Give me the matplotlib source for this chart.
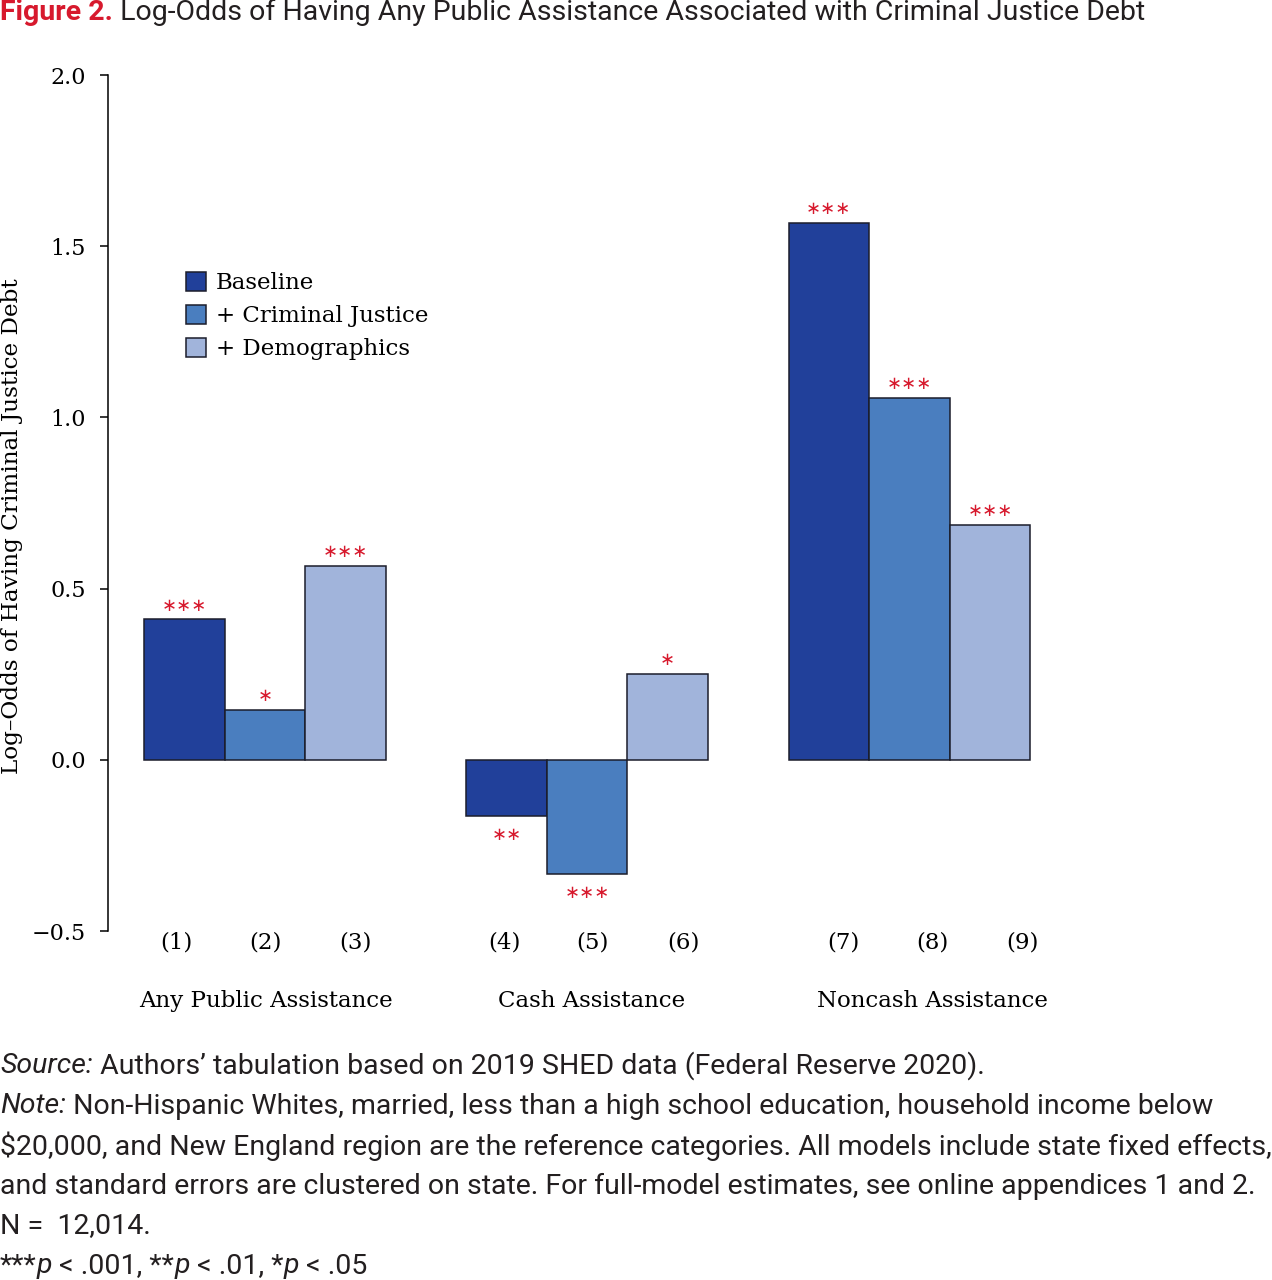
import matplotlib
matplotlib.use('Agg')
import matplotlib.pyplot as plt
import matplotlib.transforms as mtransforms
import numpy as np

plt.rcParams['font.family'] = ['DejaVu Serif']

# data
series = ['Baseline', '+ Criminal Justice', '+ Demographics']
groups = ['Any Public Assistance', 'Cash Assistance', 'Noncash Assistance']
model_labels = ['(1)', '(2)', '(3)', '(4)', '(5)', '(6)', '(7)', '(8)', '(9)']
values = [0.41, 0.146, 0.566,
          -0.163, -0.333, 0.251,
          1.567, 1.057, 0.686]
stars = ['***', '*', '***',
         '**', '***', '*',
         '***', '***', '***']
yticks = [-0.5, 0.0, 0.5, 1.0, 1.5, 2.0]

colors = ['#21409a', '#4a7ebf', '#a1b4db']
red = '#d7192d'
dark = '#231f20'
W, H = 1272, 1280

fig = plt.figure(figsize=(W / 100, H / 100), dpi=100)
ax = fig.add_axes([108 / W, 1 - 931 / H, (W - 108) / W, (931 - 75) / H])

# bar positions: three per group, one empty slot between groups
pos = np.array([g * 4 + i for g in range(3) for i in range(3)], dtype=float)
col = [colors[i % 3] for i in range(9)]
bars = ax.bar(pos, values, width=1.0, color=col, edgecolor='#1b1d2b', linewidth=1.1, zorder=2)

for p, v, s in zip(pos, values, stars):
    off = 10 if v >= 0 else -14
    ax.annotate('\u2217' * len(s), (p, v), xytext=(0, off), textcoords='offset points',
                ha='center', va='center', color=red, fontsize=13, family='DejaVu Sans')

ax.set_xlim(-0.947, 13.5)
ax.set_ylim(-0.5, 2.0)

# model numbers and group names below the axis (x in data, y in figure)
lab_x = [-0.10, 1.01, 2.12, 3.97, 5.07, 6.19, 8.18, 9.29, 10.40]
grp_x = [1.01, 5.05, 9.29]
tr = mtransforms.blended_transform_factory(ax.transData, fig.transFigure)
for x, lab in zip(lab_x, model_labels):
    fig.text(x, 1 - 943 / H, lab, ha='center', va='center', fontsize=16.5, transform=tr)
for x, name in zip(grp_x, groups):
    fig.text(x, 1 - 1001 / H, name, ha='center', va='center', fontsize=16.5, transform=tr)

ax.set_yticks(yticks)
ax.set_yticklabels(['\u22120.5', '0.0', '0.5', '1.0', '1.5', '2.0'])
ax.tick_params(axis='y', length=6, width=1.1, pad=10, labelsize=16)
ax.tick_params(axis='x', bottom=False, labelbottom=False)
for sp in ['top', 'right', 'bottom']:
    ax.spines[sp].set_visible(False)
ax.spines['left'].set_linewidth(1.1)

leg = ax.legend(bars[:3], series, loc='upper left', bbox_to_anchor=(186 / W, 1 - 272 / H),
                bbox_transform=fig.transFigure, frameon=False, fontsize=16.5,
                handlelength=0.88, handleheight=0.88, handletextpad=0.42,
                labelspacing=0.47, borderaxespad=0, borderpad=0)
for h, c in zip(leg.legend_handles, colors):
    h.set_facecolor(c)
    h.set_edgecolor('#1b1d2b')

fig.text(12 / W, 1 - 526 / H, 'Log\u2013Odds of Having Criminal Justice Debt', rotation=90,
         ha='center', va='center', fontsize=16.7)

renderer = fig.canvas.get_renderer()


def rich_line(y, parts, size=20.5):
    x = 0.0
    for txt, kw in parts:
        t = fig.text(x, y, txt, va='center', ha='left', fontsize=size,
                     family=['Roboto', 'DejaVu Sans'], **kw)
        x = t.get_window_extent(renderer).x1 / W


rich_line(1 - 12 / H, [('Figure 2.', dict(color=red, weight='bold')),
                       (' Log-Odds of Having Any Public Assistance Associated with Criminal Justice Debt',
                        dict(color=dark))], size=20.5)

notes = [
    [('Source:', dict(style='italic', color=dark)),
     (' Authors\u2019 tabulation based on 2019 SHED data (Federal Reserve 2020).', dict(color=dark))],
    [('Note:', dict(style='italic', color=dark)),
     (' Non-Hispanic Whites, married, less than a high school education, household income below', dict(color=dark))],
    [('$20,000, and New England region are the reference categories. All models include state fixed effects,', dict(color=dark))],
    [('and standard errors are clustered on state. For full-model estimates, see online appendices 1 and 2.', dict(color=dark))],
    [('N =  12,014.', dict(color=dark))],
    [('***', dict(color=dark)), ('p', dict(style='italic', color=dark)), (' < .001, **', dict(color=dark)),
     ('p', dict(style='italic', color=dark)), (' < .01, *', dict(color=dark)),
     ('p', dict(style='italic', color=dark)), (' < .05', dict(color=dark))],
]
for i, parts in enumerate(notes):
    rich_line(1 - (1066 + i * 40) / H, parts)

fig.savefig('out.png', dpi=100)
